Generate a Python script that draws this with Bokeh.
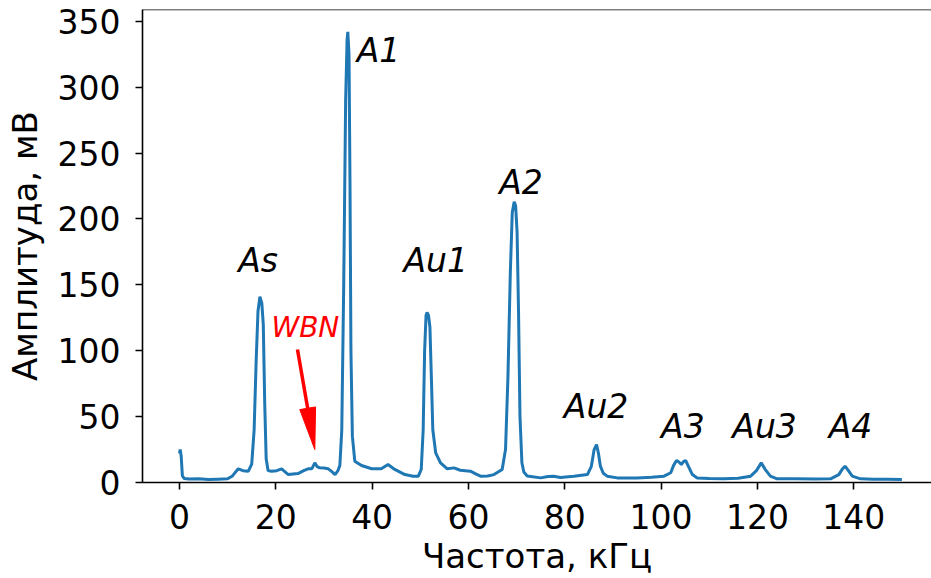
import math
from bokeh.plotting import figure
from bokeh.models import FixedTicker, Span, Range1d, ColumnDataSource
from bokeh.core.properties import value
from bokeh.embed import file_html
from bokeh.resources import INLINE

# ---------------- data ----------------
FREQ = [0.0, 0.15, 0.35, 0.6, 1.0, 2.0, 4.0, 6.0, 8.0, 10.0, 11.0, 12.2, 13.2, 14.3,
        15.0, 15.5, 15.9, 16.3, 16.7, 17.1, 17.4, 17.7, 18.0, 18.4, 19.1, 20.2, 21.2,
        22.6, 24.6, 25.8, 26.7, 27.5, 28.1, 28.6, 29.1, 30.0, 30.9, 31.7, 32.3, 32.9,
        33.3, 33.7, 34.1, 34.5, 34.8, 34.95, 35.2, 35.4, 35.6, 35.9, 36.4, 37.8, 39.9,
        41.9, 43.3, 44.7, 46.8, 48.5, 49.6, 50.2, 50.6, 50.9, 51.2, 51.4, 51.7, 52.0,
        52.3, 52.6, 53.2, 54.2, 55.6, 57.0, 58.3, 60.4, 61.5, 62.5, 64.0, 65.3, 67.0,
        67.7, 68.2, 68.7, 69.1, 69.5, 69.8, 70.1, 70.4, 70.7, 71.1, 71.5, 72.2, 75.0,
        76.5, 77.7, 79.1, 81.9, 84.7, 85.5, 86.1, 86.6, 87.0, 87.4, 88.0, 88.8, 90.9,
        95.0, 98.0, 100.6, 102.0, 102.6, 103.2, 103.7, 104.2, 104.7, 105.1, 105.7,
        106.5, 107.5, 110.0, 113.0, 116.0, 118.6, 119.8, 120.8, 121.6, 122.7, 124.1,
        128.0, 132.0, 135.2, 136.9, 137.6, 138.2, 138.9, 139.7, 141.4, 144.0, 147.0,
        150.0]
AMP = [22, 25, 20, 5, 3, 2.6, 2.8, 2.2, 2.5, 2.8, 5, 10.4, 9, 8.6,
       14, 40, 90, 130, 141, 136, 120, 60, 18, 9, 8.6, 9, 10.4,
       6, 6.8, 9, 10.4, 10.5, 14.9, 12, 11.1, 11, 10.4, 8, 6, 9,
       13, 40, 150, 290, 336, 342, 325, 230, 100, 35, 16.2, 12.9, 10.4,
       10.4, 13.6, 9.9, 6, 4.8, 4.8, 10, 40, 100, 127, 129, 127, 118,
       80, 40, 22.5, 14.9, 10.4, 11.1, 9.3, 8.6, 6.5, 4.8, 5, 6, 9.9,
       25, 80, 160, 205, 213, 210, 190, 130, 50, 15, 8, 5, 3.5,
       4.5, 4.8, 3.8, 4.8, 6, 12, 25, 28.8, 22, 12.4, 7, 4.8, 3.5,
       3.5, 4, 4.8, 7.4, 13, 16.7, 15.5, 13.6, 16, 16.7, 12,
       6, 3.5, 3, 2.8, 3.2, 4.8, 9, 14.9, 10, 4.8, 2.8,
       2.8, 2.6, 2.8, 6, 10, 12.4, 9, 4.8, 2.8, 2.5, 2.4,
       2.3]

X_TICKS = [0, 20, 40, 60, 80, 100, 120, 140]
Y_TICKS = [0, 50, 100, 150, 200, 250, 300, 350]

PEAK_LABELS = ["As", "A1", "Au1", "A2", "Au2", "A3", "Au3", "A4"]
PEAK_LABEL_X = [12.2, 36.8, 46.5, 66.4, 79.8, 100.0, 114.8, 134.8]
PEAK_LABEL_Y = [161, 320, 161, 220, 50, 35, 35, 35]

WBN_TEXT = ["WBN"]
WBN_X = [19.1]
WBN_Y = [111.5]
WBN_ARROW_FROM = (24.5, 101.0)
WBN_ARROW_TO = (28.1, 25.0)

X_LABEL = "Частота, кГц"
Y_LABEL = "Амплитуда, мВ"

# ---------------- layout ----------------
FONT = "DejaVu Sans"
X0, X1 = -7.68, 156.15
Y0, Y1 = 0.0, 359.0
W, H = 931, 578
BL, BR, BT, BB = 142, 0, 9, 95
FRAME_W = W - BL - BR
FRAME_H = H - BT - BB

p = figure(width=W, height=H, x_range=Range1d(X0, X1), y_range=Range1d(Y0, Y1),
           output_backend="svg", toolbar_location=None,
           min_border_left=BL, min_border_right=BR, min_border_top=BT,
           min_border_bottom=BB)
p.outline_line_color = None
p.xgrid.visible = False
p.ygrid.visible = False
p.background_fill_color = "white"
p.border_fill_color = "white"

p.line(FREQ, AMP, line_color="#1f77b4", line_width=3)

for ax in (p.xaxis[0], p.yaxis[0]):
    ax.axis_line_width = 1.6
    ax.axis_line_color = "black"
    ax.major_tick_line_width = 1.6
    ax.major_tick_line_color = "black"
    ax.major_tick_out = 7
    ax.major_tick_in = 0
    ax.minor_tick_line_color = None
    ax.major_label_text_font = FONT
    ax.major_label_text_font_size = "33px"
    ax.major_label_text_color = "black"
    ax.axis_label_text_font = FONT
    ax.axis_label_text_font_size = "34px"
    ax.axis_label_text_font_style = "normal"
    ax.axis_label_text_color = "black"

p.xaxis.ticker = FixedTicker(ticks=X_TICKS)
p.yaxis.ticker = FixedTicker(ticks=Y_TICKS)
p.xaxis.axis_label = X_LABEL
p.yaxis.axis_label = Y_LABEL
p.xaxis.major_label_standoff = 14
p.yaxis.major_label_standoff = 15
p.xaxis.axis_label_standoff = 4
p.yaxis.axis_label_standoff = 10

# top spine
p.add_layout(Span(location=Y1, dimension="width", line_color="black", line_width=1.6))

# peak labels
src = ColumnDataSource(dict(x=PEAK_LABEL_X, y=PEAK_LABEL_Y, t=PEAK_LABELS))
p.text(x="x", y="y", text="t", source=src, text_font=value(FONT),
       text_font_style="italic", text_font_size="33px", text_color="black",
       text_align="left", text_baseline="alphabetic", y_offset=-10)

# WBN label + arrow
wsrc = ColumnDataSource(dict(x=WBN_X, y=WBN_Y, t=WBN_TEXT))
p.text(x="x", y="y", text="t", source=wsrc, text_font=value(FONT),
       text_font_style="italic", text_font_size="28px", text_color="red",
       text_align="left", text_baseline="alphabetic", y_offset=-8)

sx = FRAME_W / (X1 - X0)
sy = FRAME_H / (Y1 - Y0)
HEAD_LEN, HEAD_HALF_W = 42.0, 8.0
dxp = (WBN_ARROW_TO[0] - WBN_ARROW_FROM[0]) * sx
dyp = (WBN_ARROW_TO[1] - WBN_ARROW_FROM[1]) * sy
L = math.hypot(dxp, dyp)
ux, uy = dxp / L, dyp / L
bx = WBN_ARROW_TO[0] - ux * HEAD_LEN / sx
by = WBN_ARROW_TO[1] - uy * HEAD_LEN / sy
nx, ny = -uy, ux
p.segment(x0=[WBN_ARROW_FROM[0]], y0=[WBN_ARROW_FROM[1]], x1=[bx], y1=[by],
          line_color="red", line_width=3.5)
p.patch([bx + nx * HEAD_HALF_W / sx, WBN_ARROW_TO[0], bx - nx * HEAD_HALF_W / sx],
        [by + ny * HEAD_HALF_W / sy, WBN_ARROW_TO[1], by - ny * HEAD_HALF_W / sy],
        fill_color="red", line_color="red", line_width=1)

open("out.html", "w").write(file_html(p, INLINE))
